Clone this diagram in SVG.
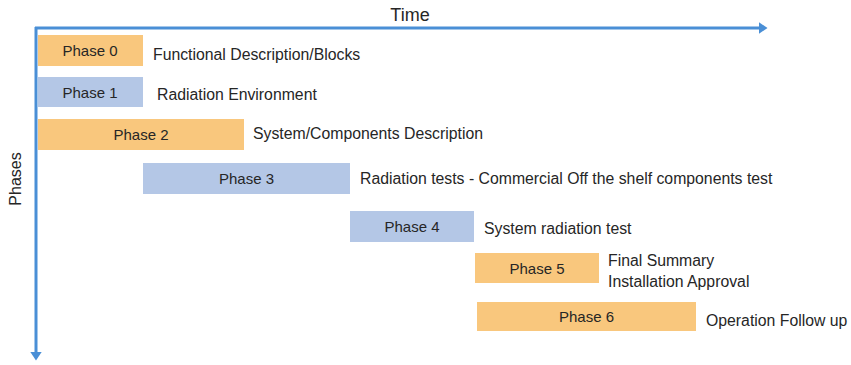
<svg xmlns="http://www.w3.org/2000/svg" width="851" height="365" viewBox="0 0 851 365">
<style>
text{font-family:"Liberation Sans",Arial,sans-serif;fill:#262626}
.lbl{font-size:15.8px}
.ph{font-size:15px;text-anchor:middle;dominant-baseline:central}
.o{fill:#F9C77D}
.b{fill:#B4C7E6}
.ax{stroke:#4A8FD6;stroke-width:3;fill:none}
</style>
<defs>
<marker id="ah" markerWidth="4" markerHeight="4" refX="1.5" refY="2" orient="auto" markerUnits="strokeWidth">
<path d="M0,0 L3,2 L0,4 Z" fill="#4A8FD6"/>
</marker>
</defs>
<rect width="851" height="365" fill="#fff"/>
<g id="connectors">
<line class="ax" x1="35" y1="28" x2="763" y2="28" marker-end="url(#ah)"/>
<line class="ax" x1="36" y1="27" x2="36" y2="356" marker-end="url(#ah)"/>
</g>
<text x="410" y="21" font-size="18" text-anchor="middle">Time</text>
<text x="0" y="0" font-size="16" text-anchor="middle" transform="translate(21,179) rotate(-90)">Phases</text>
<g id="phase0"><rect class="o" x="38" y="35" width="105" height="31"/><text class="ph" x="90" y="50">Phase 0</text><text class="lbl" x="153" y="60">Functional Description/Blocks</text></g>
<g id="phase1"><rect class="b" x="38" y="77" width="105" height="30"/><text class="ph" x="90" y="92">Phase 1</text><text class="lbl" x="157" y="100">Radiation Environment</text></g>
<g id="phase2"><rect class="o" x="38" y="119" width="206" height="31"/><text class="ph" x="141" y="134.5">Phase 2</text><text class="lbl" x="253" y="139">System/Components Description</text></g>
<g id="phase3"><rect class="b" x="143" y="163" width="207" height="31"/><text class="ph" x="246.5" y="178.5">Phase 3</text><text class="lbl" x="360" y="184">Radiation tests - Commercial Off the shelf components test</text></g>
<g id="phase4"><rect class="b" x="350" y="211" width="124" height="31"/><text class="ph" x="412" y="226.5">Phase 4</text><text class="lbl" x="484" y="234">System radiation test</text></g>
<g id="phase5"><rect class="o" x="475" y="253" width="124" height="30"/><text class="ph" x="537" y="268">Phase 5</text><text class="lbl" x="608" y="266">Final Summary</text><text class="lbl" x="608" y="287">Installation Approval</text></g>
<g id="phase6"><rect class="o" x="477" y="302" width="219" height="29"/><text class="ph" x="586.5" y="316.5">Phase 6</text><text class="lbl" x="706" y="326">Operation Follow up</text></g>
</svg>
